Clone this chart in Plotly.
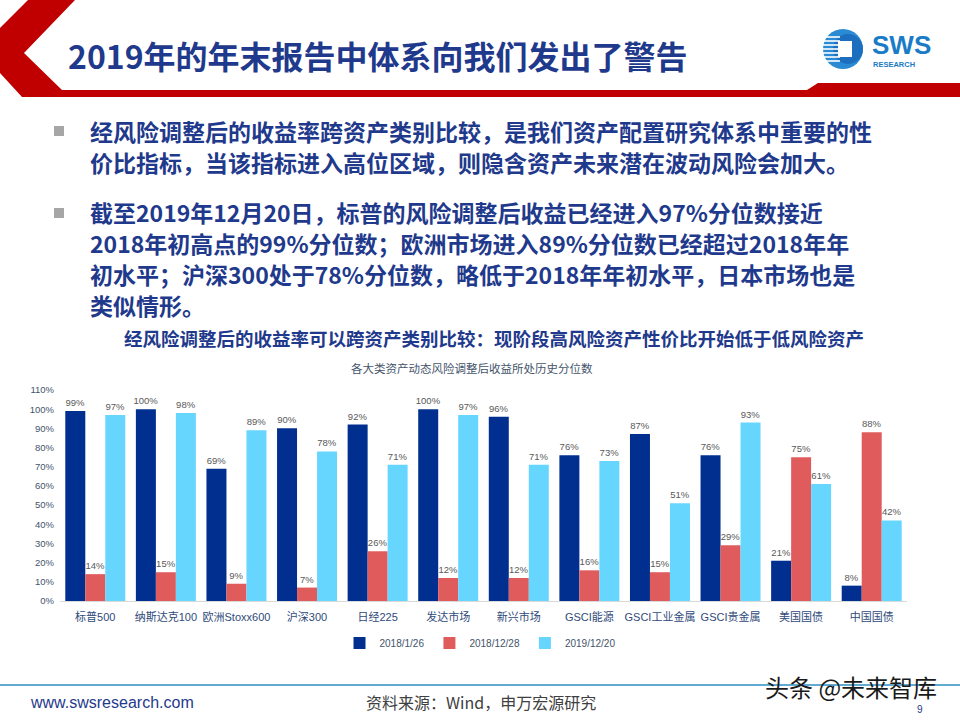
import plotly.graph_objects as go

# ---------------- data ----------------
categories = ["标普500", "纳斯达克100", "欧洲Stoxx600", "沪深300", "日经225", "发达市场",
              "新兴市场", "GSCI能源", "GSCI工业金属", "GSCI贵金属", "美国国债", "中国国债"]
series_names = ["2018/1/26", "2018/12/28", "2019/12/20"]
s_2018_01_26 = [99, 100, 69, 90, 92, 100, 96, 76, 87, 76, 21, 8]
s_2018_12_28 = [14, 15, 9, 7, 26, 12, 12, 16, 15, 29, 75, 88]
s_2019_12_20 = [97, 98, 89, 78, 71, 97, 71, 73, 51, 93, 61, 42]
y_ticks = [0, 10, 20, 30, 40, 50, 60, 70, 80, 90, 100, 110]
y_tick_labels = [f"{v}%" for v in y_ticks]

title_text = "2019年的年末报告中体系向我们发出了警告"
para1 = ["经风险调整后的收益率跨资产类别比较，是我们资产配置研究体系中重要的性",
         "价比指标，当该指标进入高位区域，则隐含资产未来潜在波动风险会加大。"]
para2 = ["截至2019年12月20日，标普的风险调整后收益已经进入97%分位数接近",
         "2018年初高点的99%分位数；欧洲市场进入89%分位数已经超过2018年年",
         "初水平；沪深300处于78%分位数，略低于2018年年初水平，日本市场也是",
         "类似情形。"]
chart_heading = "经风险调整后的收益率可以跨资产类别比较：现阶段高风险资产性价比开始低于低风险资产"
chart_subtitle = "各大类资产动态风险调整后收益所处历史分位数"
source_text = "资料来源：Wind，申万宏源研究"
site_text = "www.swsresearch.com"
watermark = "头条 @未来智库"

# ---------------- helpers (pixel -> paper) ----------------
W, H = 960, 720
def X(px):
    return px / W
def Y(py):
    return 1 - py / H

CJK = "Noto Sans CJK SC"
LAT = "Liberation Sans, Noto Sans CJK SC"
NAVY = "#1F3A8C"

colors = ["#002F8F", "#E05C5C", "#66D6FF"]
values = [s_2018_01_26, s_2018_12_28, s_2019_12_20]

fig = go.Figure()
for name, vals, col in zip(series_names, values, colors):
    fig.add_trace(go.Bar(
        x=categories, y=vals, name=name, marker_color=col,
        marker_line_width=0,
        text=[f"{v}%" for v in vals], texttemplate="%{text}", textposition="outside",
        constraintext="none",
        textfont=dict(size=9.5, color="#595959", family=LAT),
        cliponaxis=False, hoverinfo="x+y+name",
    ))

fig.update_layout(
    width=W, height=H,
    margin=dict(l=0, r=0, t=0, b=0),
    paper_bgcolor="white", plot_bgcolor="white",
    barmode="group", bargap=0.15, bargroupgap=0,
    showlegend=True,
    legend=dict(orientation="h", x=0.5, xanchor="center", y=Y(643), yanchor="middle",
                font=dict(size=10, color="#44546A", family=LAT),
                bgcolor="rgba(0,0,0,0)", itemwidth=30, itemclick=False,
                tracegroupgap=0),
    xaxis=dict(domain=[X(60), X(907)], type="category", showgrid=False,
               showline=True, linecolor="#D9D9D9", linewidth=1,
               tickfont=dict(size=11, color="#2F4A7A", family=LAT),
               ticks="", ticklabelstandoff=6, automargin=False),
    yaxis=dict(domain=[Y(601), Y(390)], range=[0, 110], tickmode="array",
               tickvals=y_ticks, ticktext=y_tick_labels,
               showgrid=False, zeroline=False, showline=False,
               tickfont=dict(size=9.5, color="#44546A", family=LAT),
               ticks="", ticklabelstandoff=5, automargin=False),
    font=dict(family=LAT),
)

shapes = []
# red header chevron + band
pts = [(28, 0), (75, 0), (24, 53), (62, 90), (807, 90), (818, 83), (960, 83),
       (960, 97), (22, 97), (0, 73), (0, 28)]
path = "M " + " L ".join(f"{X(a):.5f},{Y(b):.5f}" for a, b in pts) + " Z"
shapes.append(dict(type="path", path=path, xref="paper", yref="paper",
                   fillcolor="#C00000", line_width=0, layer="below"))
# logo
shapes.append(dict(type="circle", xref="paper", yref="paper",
                   x0=X(823), x1=X(863), y0=Y(69), y1=Y(29),
                   fillcolor="#2A8AD4", line_width=0))
shapes.append(dict(type="circle", xref="paper", yref="paper",
                   x0=X(833), x1=X(863), y0=Y(64), y1=Y(34),
                   fillcolor="#1C6FBF", line_width=0))
for yy in [37, 41, 45, 49, 53, 57, 61]:
    shapes.append(dict(type="line", xref="paper", yref="paper",
                       x0=X(823), x1=X(840), y0=Y(yy), y1=Y(yy),
                       line=dict(color="white", width=1.6)))
shapes.append(dict(type="rect", xref="paper", yref="paper",
                   x0=X(838), x1=X(852), y0=Y(57), y1=Y(41),
                   fillcolor="white", line_width=0))
# bullet squares
for yc in [131, 213]:
    shapes.append(dict(type="rect", xref="paper", yref="paper",
                       x0=X(54), x1=X(64), y0=Y(yc + 5), y1=Y(yc - 5),
                       fillcolor="#A6A6A6", line_width=0))
# footer line
shapes.append(dict(type="line", xref="paper", yref="paper",
                   x0=0, x1=1, y0=Y(685), y1=Y(685),
                   line=dict(color="#2C8FC4", width=1.5)))
fig.update_layout(shapes=shapes)

ann = []
def add_text(txt, x, y, size, color, family=CJK, xanchor="left", bold=False, align="left"):
    ann.append(dict(text=("<b>%s</b>" % txt) if bold else txt,
                    x=X(x), y=Y(y), xref="paper", yref="paper",
                    xanchor=xanchor, yanchor="middle", showarrow=False, align=align,
                    font=dict(size=size, color=color, family=family)))

add_text(title_text, 66, 55, 32, NAVY, bold=True)
add_text("SWS", 870, 45, 26, "#1A7CC6", family="Liberation Sans", bold=True)
add_text("RESEARCH", 871, 64, 7.5, "#1A7CC6", family="Liberation Sans", bold=True)
for i, line in enumerate(para1):
    add_text(line, 88, 131 + 31 * i, 23, NAVY, bold=True)
for i, line in enumerate(para2):
    add_text(line, 88, 212 + 31 * i, 23, NAVY, bold=True)
add_text(chart_heading, 494, 338, 18.5, NAVY, xanchor="center", bold=True)
add_text(chart_subtitle, 472, 368, 11.5, "#44546A", xanchor="center")
add_text(site_text, 28, 702, 16, NAVY, family=LAT)
add_text(source_text, 481, 702, 16, "#404040", xanchor="center")
add_text("9", 920, 709, 10, NAVY, family=LAT, xanchor="center")
add_text(watermark, 851, 686, 24, "#1A1A1A", xanchor="center")
fig.update_layout(annotations=ann)

fig.write_html("out.html")
